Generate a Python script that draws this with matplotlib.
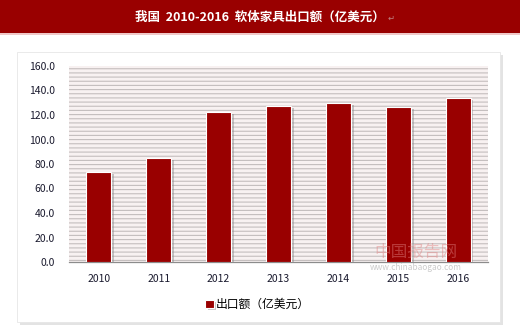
import matplotlib.pyplot as plt
import matplotlib.patheffects as pe
from matplotlib.patches import Rectangle

plt.rcParams['font.family'] = ['Noto Sans CJK SC', 'DejaVu Sans']
plt.rcParams['hatch.linewidth'] = 0.8

# data
years = ['2010', '2011', '2012', '2013', '2014', '2015', '2016']
export_value = [73.5, 84.8, 122.8, 127.5, 129.5, 126.5, 134.0]
yticks = [0, 20, 40, 60, 80, 100, 120, 140, 160]

title = '我国  2010-2016  软体家具出口额（亿美元）'
series_name = '出口额（亿美元）'

dark_red = '#990000'

fig = plt.figure(figsize=(5.2, 3.36), dpi=100)

# title banner
fig.patches.append(Rectangle((0, 1 - 33 / 336), 1, 33 / 336, transform=fig.transFigure,
                             facecolor=dark_red, edgecolor='none', zorder=0))
fig.patches.append(Rectangle((0, 1 - 35 / 336), 1, 2 / 336, transform=fig.transFigure,
                             facecolor='#f0c8c8', edgecolor='none', zorder=0))
fig.text(0.5, 1 - 17 / 336, title, color='white', fontsize=9, fontweight='bold',
         ha='center', va='center')
fig.text(0.745, 1 - 18 / 336, '↵', color='#c08080', fontsize=6, ha='left', va='center')

# white card with shadow
card = Rectangle((17 / 520, 1 - 322 / 336), (500 - 17) / 520, (322 - 52) / 336,
                 transform=fig.transFigure, facecolor='white', edgecolor='#e6e6e6', lw=0.6,
                 zorder=0.5,
                 path_effects=[pe.SimplePatchShadow(offset=(2.5, -2.5), shadow_rgbFace='#c8c8c8', alpha=0.5),
                               pe.Normal()])
fig.patches.append(card)

ax = fig.add_axes([69 / 520, 1 - 262 / 336, (488 - 69) / 520, (262 - 66) / 336])
ax.set_zorder(2)
ax.set_facecolor('#f8f1f1')
ax.patch.set_hatch('----')
ax.patch.set_edgecolor('#c4bebe')
ax.patch.set_linewidth(0)

x = range(len(years))
bars = ax.bar(x, export_value, width=0.42, color=dark_red, edgecolor='white', linewidth=0.8,
              label=series_name, zorder=3)
for b in bars:
    b.set_path_effects([pe.SimplePatchShadow(offset=(2, -1.5), shadow_rgbFace='#888888', alpha=0.45),
                        pe.Normal()])

ax.set_xlim(-0.5, len(years) - 0.5)
ax.set_ylim(0, 160)
ax.set_yticks(yticks)
ax.set_yticklabels([f'{v:.1f}' for v in yticks])
ax.set_xticks(list(x))
ax.set_xticklabels(years)
ax.tick_params(axis='both', length=0, labelsize=7.5, colors='#1a1a2e')
ax.tick_params(axis='x', pad=9)
ax.tick_params(axis='y', pad=10)
for s in ['top', 'right', 'left']:
    ax.spines[s].set_visible(False)
ax.spines['bottom'].set_color('#8c8c8c')
ax.spines['bottom'].set_linewidth(0.9)

leg = ax.legend(loc='upper center', bbox_to_anchor=(0.45, -0.13), frameon=False,
                fontsize=8.5, handlelength=0.7, handleheight=0.7, handletextpad=0.2)

# watermark
fig.text(0.80, 1 - 252 / 336, '中国报告网', color='#e08080', alpha=0.45, fontsize=12,
         ha='center', va='center', zorder=5)
fig.text(0.80, 1 - 267 / 336, 'www.chinabaogao.com', color='#999999', alpha=0.5, fontsize=6,
         ha='center', va='center', zorder=5)

fig.savefig('out.png', dpi=100)
